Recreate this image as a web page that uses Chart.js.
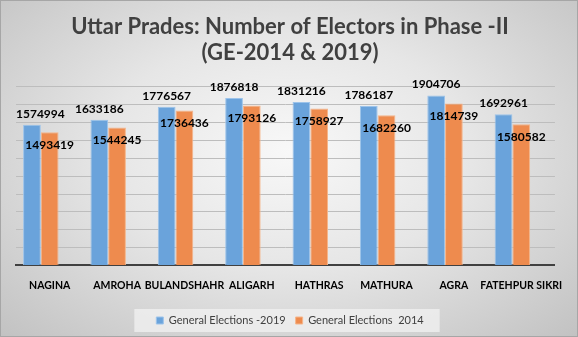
<!DOCTYPE html>
<html>
<head>
<meta charset="utf-8">
<script src="https://cdn.jsdelivr.net/npm/chart.js@4.4.1/dist/chart.umd.min.js"></script>
<style>
  html,body{margin:0;padding:0;}
  #wrap{
    width:576px;height:335px;border:1px solid #a6a6a6;
    background:radial-gradient(ellipse at 50% 45%, #f8f8f8 0%, #e6e6e6 45%, #c2c2c2 100%);
  }
</style>
</head>
<body>
<div id="wrap"><canvas id="chart" width="576" height="335"></canvas></div>
<script>
// data
const constituencies = ['NAGINA','AMROHA','BULANDSHAHR','ALIGARH','HATHRAS','MATHURA','AGRA','FATEHPUR SIKRI'];
const electors2019 = [1574994,1633186,1776567,1876818,1831216,1786187,1904706,1692961];
const electors2014 = [1493419,1544245,1736436,1793126,1758927,1682260,1814739,1580582];
const titleLines = ['Uttar Prades: Number of Electors in Phase -II','(GE-2014 & 2019)'];

const FONT = 'Lato, "Open Sans", sans-serif';

// number labels on top of bars
const barLabels = {
  id:'barLabels',
  afterDatasetsDraw(chart){
    const ctx = chart.ctx, area = chart.chartArea;
    ctx.save();
    ctx.font = 'bold 12px ' + FONT;
    ctx.fillStyle = '#000';
    ctx.textAlign = 'center';
    ctx.textBaseline = 'middle';
    chart.data.datasets.forEach((ds,i)=>{
      if(!ds.showValues) return;
      const meta = chart.getDatasetMeta(i);
      meta.data.forEach((bar,j)=>{
        const txt = String(ds.data[j]);
        const w = ctx.measureText(txt).width;
        let x = Math.max(bar.x, area.left + w/2);
        const y = ds.valuePos==='above' ? bar.y - 11 : bar.y + 13;
        ctx.fillText(txt, x, y);
      });
    });
    ctx.restore();
  }
};

// light box behind legend
const legendBox = {
  id:'legendBox',
  beforeDraw(chart){
    const lg = chart.legend;
    if(!lg || !lg.legendHitBoxes.length) return;
    const boxes = lg.legendHitBoxes;
    const x0 = boxes[0].left - 22, x1 = boxes[boxes.length-1].left + boxes[boxes.length-1].width + 16;
    const y0 = boxes[0].top - 6, y1 = boxes[0].top + boxes[0].height + 6;
    const ctx = chart.ctx;
    ctx.save();
    ctx.fillStyle = 'rgba(242,242,242,0.75)';
    ctx.fillRect(x0, y0, x1-x0, y1-y0);
    ctx.restore();
  }
};

new Chart(document.getElementById('chart'), {
  type:'bar',
  data:{
    labels: constituencies,
    datasets:[
      {label:'General Elections -2019', data:electors2019, backgroundColor:'#6aa3db', borderColor:'#9cc3ea', borderWidth:1, showValues:true, valuePos:'above'},
      {label:'General Elections  2014', data:electors2014, backgroundColor:'#ee8b4e', borderColor:'#f5b58a', borderWidth:1, showValues:true, valuePos:'inside'},
      {label:'', data:constituencies.map(()=>null)}  // empty slot, keeps the pair left of centre
    ]
  },
  options:{
    responsive:false,
    animation:false,
    categoryPercentage:0.79,
    barPercentage:1.0,
    layout:{ padding:{left:15, right:13, top:0, bottom:0} },
    plugins:{
      title:{
        display:true,
        text: titleLines,
        color:'#404040',
        font:{family:FONT, size:22, weight:'bold', lineHeight:1.18},
        padding:{top:13, bottom:21}
      },
      legend:{
        position:'bottom',
        labels:{
          filter:(item)=> item.text!=='',
          boxWidth:7, boxHeight:7,
          color:'#404040',
          font:{family:FONT, size:11},
          padding:10
        }
      },
      tooltip:{enabled:false}
    },
    scales:{
      x:{
        grid:{display:false, drawTicks:false},
        border:{color:'#404040', width:2},
        ticks:{color:'#000', font:{family:FONT, size:10.5, weight:'bold'}, padding:14, maxRotation:0, autoSkip:false},
        afterFit(scale){ scale.height -= 1; }
      },
      y:{
        min:0, max:2000000,
        grid:{color:'#bdbdbd', drawTicks:false},
        border:{display:false},
        ticks:{display:false, stepSize:200000}
      }
    }
  },
  plugins:[legendBox, barLabels]
});
</script>
</body>
</html>
